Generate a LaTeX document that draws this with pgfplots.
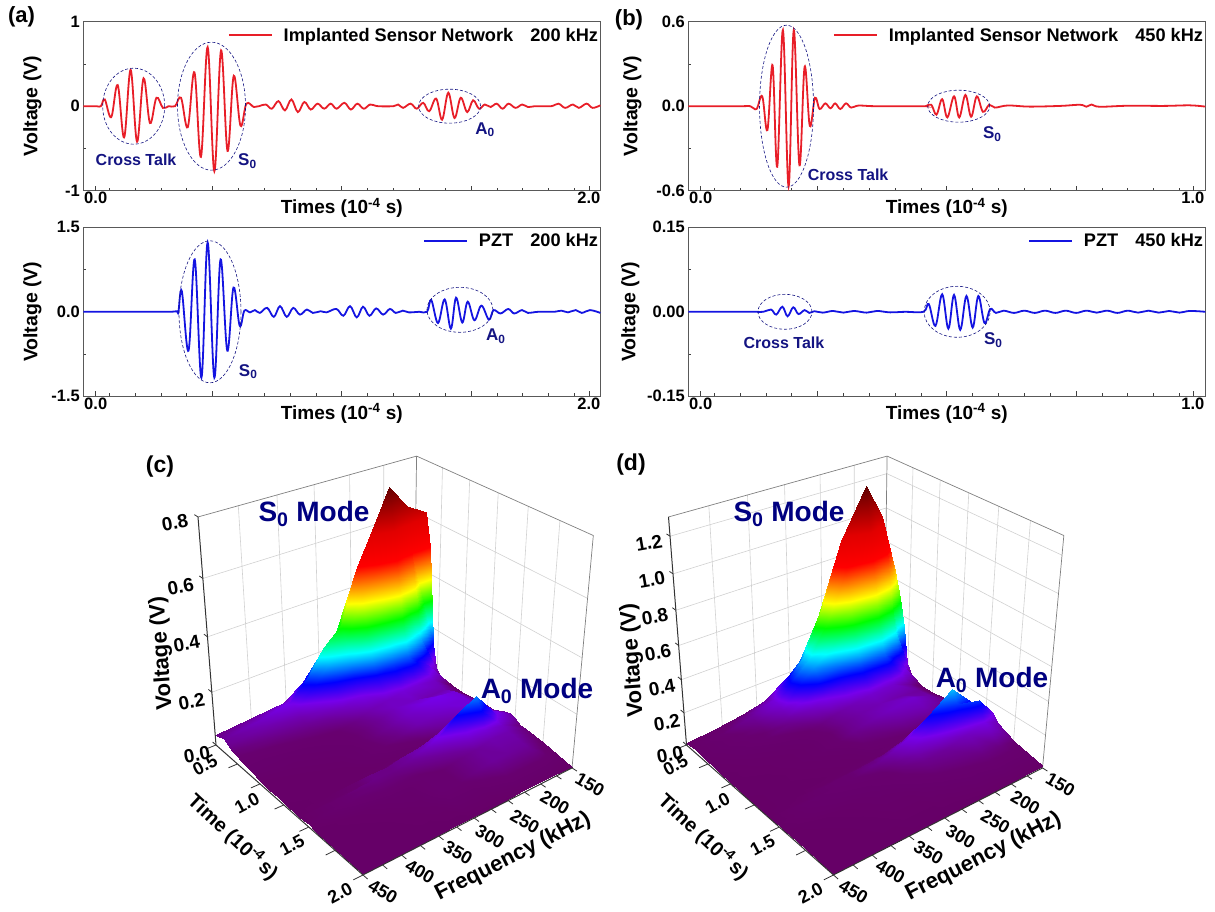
\documentclass[border=0pt]{standalone}
\usepackage{pgfplots}
\usepackage{pgfplotstable}
\usepackage{fontspec}
\setmainfont{Liberation Sans}
\pgfplotsset{compat=1.18}
\newcommand\fs[1]{\fontsize{#1}{#1}\selectfont\bfseries}
\definecolor{nv}{RGB}{20,20,130}
\definecolor{nd}{RGB}{0,0,128}
\definecolor{lr}{RGB}{232,30,40}
\definecolor{lb}{RGB}{20,20,225}
\tikzset{ell/.style={nv,densely dashed,line width=.6pt},lab/.style={nv,font=\fs{16}}}
\pgfplotsset{
 panel/.style={scale only axis,width=517pt,height=169pt,clip=false,
  tick align=inside,xtick pos=bottom,ytick pos=left,
  axis line style={black!65,line width=.8pt},
  tick style={black!75,line width=.7pt},
  major tick length=5pt,minor tick length=3pt,
  xticklabels={,,,,},
  minor x tick num=4,minor y tick num=1,
  tick label style={font=\fs{16.5}},
  xlabel={Times (10\textsuperscript{-4} s)},
  ylabel={Voltage (V)},
  every axis x label/.style={at={(0.5,0)},yshift=-17pt,anchor=center,font=\fs{19}},
  every axis y label/.style={at={(0,0.5)},xshift=-51pt,rotate=90,anchor=center,font=\fs{19.5}},
  extra tick style={major tick length=0pt,tick style={draw=none}},
  every extra x tick/.style={xticklabel style={yshift=2pt}},
  legend cell align=left,
  legend style={draw=none,fill=none,at={(1,1)},anchor=north east,xshift=3pt,yshift=-2pt,font=\fs{18.2}},
 },
 legred/.style={legend image code/.code={\draw[lr,line width=1.8pt] (0,0) -- (43pt,0);\path (52pt,0);}},
 legblue/.style={legend image code/.code={\draw[lb,line width=1.8pt] (0,0) -- (43pt,0);\path (52pt,0);}},
 sig/.style={line width=1.8pt,smooth,tension=.6},
 /pgfplots/table/projc/.style={
   x expr={PX((\thisrow{t}-0.5)/1.5,(450-\thisrow{f})/300,\thisrow{v}/0.8)},
   y expr={PY((\thisrow{t}-0.5)/1.5,(450-\thisrow{f})/300,\thisrow{v}/0.8)},
   z expr={\thisrow{v}}},
 /pgfplots/table/projd/.style={
   x expr={470.5+PX((\thisrow{t}-0.5)/1.5,(450-\thisrow{f})/300,\thisrow{v}/1.3)},
   y expr={PY((\thisrow{t}-0.5)/1.5,(450-\thisrow{f})/300,\thisrow{v}/1.3)},
   z expr={\thisrow{v}}},
 colormap={rb}{rgb255(0pt)=(102,0,102); rgb255(3pt)=(104,0,112); rgb255(6pt)=(112,0,175); rgb255(9pt)=(118,0,235);
   rgb255(14pt)=(0,0,255); rgb255(22pt)=(0,255,255); rgb255(30pt)=(0,255,0);
   rgb255(38pt)=(255,255,0); rgb255(44pt)=(255,128,0); rgb255(50pt)=(255,0,0);
   rgb255(60pt)=(225,0,0); rgb255(75pt)=(95,0,0)},
 wall/.style={black!18,line width=.6pt,forget plot},
 frame/.style={black!50,line width=.7pt,forget plot},
 axl/.style={black!80,line width=1pt,forget plot},
 tk/.style={black!80,line width=.8pt,forget plot},
}
\pgfplotstableread[row sep=\\]{t f v\\
0.5 150 0.30\\0.5 180 0.38\\0.5 207 0.42\\0.5 230 0.36\\0.5 255 0.28\\0.5 280 0.18\\0.5 305 0.13\\0.5 330 0.09\\0.5 355 0.06\\0.5 400 0.05\\0.5 450 0.04\\
0.55 150 0.50\\0.55 180 0.58\\0.55 207 0.66\\0.55 230 0.55\\0.55 255 0.43\\0.55 280 0.27\\0.55 305 0.21\\0.55 330 0.13\\0.55 355 0.08\\0.55 400 0.06\\0.55 450 0.045\\
0.6 150 0.62\\0.6 180 0.66\\0.6 207 0.745\\0.6 230 0.63\\0.6 255 0.50\\0.6 280 0.31\\0.6 305 0.25\\0.6 330 0.16\\0.6 355 0.095\\0.6 400 0.07\\0.6 450 0.05\\
0.65 150 0.50\\0.65 180 0.52\\0.65 207 0.60\\0.65 230 0.50\\0.65 255 0.40\\0.65 280 0.26\\0.65 305 0.20\\0.65 330 0.13\\0.65 355 0.08\\0.65 400 0.06\\0.65 450 0.045\\
0.7 150 0.14\\0.7 180 0.36\\0.7 207 0.42\\0.7 230 0.36\\0.7 255 0.29\\0.7 280 0.19\\0.7 305 0.14\\0.7 330 0.09\\0.7 355 0.06\\0.7 400 0.05\\0.7 450 0.035\\
0.75 150 0.02\\0.75 180 0.20\\0.75 207 0.28\\0.75 230 0.25\\0.75 255 0.20\\0.75 280 0.13\\0.75 305 0.10\\0.75 330 0.07\\0.75 355 0.05\\0.75 400 0.04\\0.75 450 0.03\\
0.8 150 0.02\\0.8 180 0.12\\0.8 207 0.17\\0.8 230 0.16\\0.8 255 0.13\\0.8 280 0.09\\0.8 305 0.07\\0.8 330 0.05\\0.8 355 0.04\\0.8 400 0.03\\0.8 450 0.025\\
0.9 150 0.02\\0.9 180 0.07\\0.9 207 0.08\\0.9 230 0.08\\0.9 255 0.07\\0.9 280 0.06\\0.9 305 0.04\\0.9 330 0.03\\0.9 355 0.025\\0.9 400 0.02\\0.9 450 0.02\\
1.0 150 0.02\\1.0 180 0.06\\1.0 207 0.06\\1.0 230 0.07\\1.0 255 0.07\\1.0 280 0.05\\1.0 305 0.035\\1.0 330 0.025\\1.0 355 0.02\\1.0 400 0.015\\1.0 450 0.01\\
1.1 150 0.025\\1.1 180 0.08\\1.1 207 0.09\\1.1 230 0.085\\1.1 255 0.07\\1.1 280 0.05\\1.1 305 0.035\\1.1 330 0.02\\1.1 355 0.015\\1.1 400 0.01\\1.1 450 0.01\\
1.2 150 0.03\\1.2 180 0.08\\1.2 207 0.08\\1.2 230 0.07\\1.2 255 0.06\\1.2 280 0.04\\1.2 305 0.03\\1.2 330 0.02\\1.2 355 0.01\\1.2 400 0.01\\1.2 450 0.01\\
1.3 150 0.03\\1.3 180 0.08\\1.3 207 0.06\\1.3 230 0.05\\1.3 255 0.03\\1.3 280 0.02\\1.3 305 0.015\\1.3 330 0.01\\1.3 355 0.01\\1.3 400 0.01\\1.3 450 0.005\\
1.35 150 0.04\\1.35 180 0.08\\1.35 207 0.06\\1.35 230 0.05\\1.35 255 0.03\\1.35 280 0.025\\1.35 305 0.02\\1.35 330 0.015\\1.35 355 0.01\\1.35 400 0.01\\1.35 450 0.005\\
1.4 150 0.05\\1.4 180 0.08\\1.4 207 0.14\\1.4 230 0.11\\1.4 255 0.08\\1.4 280 0.06\\1.4 305 0.05\\1.4 330 0.04\\1.4 355 0.04\\1.4 400 0.015\\1.4 450 0.005\\
1.45 150 0.056\\1.45 180 0.10\\1.45 207 0.18\\1.45 230 0.15\\1.45 255 0.10\\1.45 280 0.07\\1.45 305 0.05\\1.45 330 0.04\\1.45 355 0.04\\1.45 400 0.03\\1.45 450 0.005\\
1.5 150 0.05\\1.5 180 0.09\\1.5 207 0.14\\1.5 230 0.10\\1.5 255 0.07\\1.5 280 0.05\\1.5 305 0.04\\1.5 330 0.035\\1.5 355 0.035\\1.5 400 0.03\\1.5 450 0.01\\
1.55 150 0.035\\1.55 180 0.07\\1.55 207 0.08\\1.55 230 0.07\\1.55 255 0.05\\1.55 280 0.04\\1.55 305 0.03\\1.55 330 0.03\\1.55 355 0.03\\1.55 400 0.02\\1.55 450 0.005\\
1.6 150 0.035\\1.6 180 0.06\\1.6 207 0.06\\1.6 230 0.05\\1.6 255 0.04\\1.6 280 0.03\\1.6 305 0.03\\1.6 330 0.02\\1.6 355 0.02\\1.6 400 0.01\\1.6 450 0.005\\
1.75 150 0.025\\1.75 180 0.05\\1.75 207 0.05\\1.75 230 0.05\\1.75 255 0.04\\1.75 280 0.03\\1.75 305 0.03\\1.75 330 0.015\\1.75 355 0.01\\1.75 400 0.005\\1.75 450 0.005\\
2.0 150 0.005\\2.0 180 0.01\\2.0 207 0.01\\2.0 230 0.01\\2.0 255 0.005\\2.0 280 0.005\\2.0 305 0.005\\2.0 330 0.005\\2.0 355 0.005\\2.0 400 0.005\\2.0 450 0.005\\
}\datac
\pgfplotstableread[row sep=\\]{t f v\\
0.5 150 0.30\\0.5 172 0.55\\0.5 198 0.70\\0.5 234 0.55\\0.5 264 0.35\\0.5 291 0.20\\0.5 309 0.15\\0.5 339 0.08\\0.5 370 0.05\\0.5 410 0.03\\0.5 450 0.015\\
0.55 150 0.52\\0.55 172 0.85\\0.55 198 1.02\\0.55 234 0.78\\0.55 264 0.49\\0.55 291 0.28\\0.55 309 0.21\\0.55 339 0.11\\0.55 370 0.07\\0.55 410 0.04\\0.55 450 0.02\\
0.6 150 0.65\\0.6 172 1.01\\0.6 198 1.21\\0.6 234 0.936\\0.6 264 0.585\\0.6 291 0.33\\0.6 309 0.25\\0.6 339 0.13\\0.6 370 0.08\\0.6 410 0.05\\0.6 450 0.02\\
0.65 150 0.50\\0.65 172 0.80\\0.65 198 0.98\\0.65 234 0.78\\0.65 264 0.50\\0.65 291 0.33\\0.65 309 0.26\\0.65 339 0.13\\0.65 370 0.07\\0.65 410 0.04\\0.65 450 0.02\\
0.7 150 0.33\\0.7 172 0.55\\0.7 198 0.68\\0.7 234 0.56\\0.7 264 0.38\\0.7 291 0.30\\0.7 309 0.24\\0.7 339 0.11\\0.7 370 0.06\\0.7 410 0.04\\0.7 450 0.02\\
0.75 150 0.03\\0.75 172 0.36\\0.75 198 0.46\\0.75 234 0.38\\0.75 264 0.28\\0.75 291 0.24\\0.75 309 0.17\\0.75 339 0.09\\0.75 370 0.05\\0.75 410 0.035\\0.75 450 0.015\\
0.8 150 0.03\\0.8 172 0.18\\0.8 198 0.28\\0.8 234 0.25\\0.8 264 0.19\\0.8 291 0.15\\0.8 309 0.11\\0.8 339 0.07\\0.8 370 0.05\\0.8 410 0.03\\0.8 450 0.015\\
0.9 150 0.03\\0.9 172 0.08\\0.9 198 0.12\\0.9 234 0.12\\0.9 264 0.10\\0.9 291 0.08\\0.9 309 0.06\\0.9 339 0.04\\0.9 370 0.03\\0.9 410 0.02\\0.9 450 0.01\\
1.0 150 0.03\\1.0 172 0.08\\1.0 198 0.09\\1.0 234 0.10\\1.0 264 0.09\\1.0 291 0.07\\1.0 309 0.05\\1.0 339 0.03\\1.0 370 0.02\\1.0 410 0.015\\1.0 450 0.01\\
1.1 150 0.04\\1.1 172 0.09\\1.1 198 0.12\\1.1 234 0.11\\1.1 264 0.09\\1.1 291 0.07\\1.1 309 0.05\\1.1 339 0.03\\1.1 370 0.02\\1.1 410 0.01\\1.1 450 0.01\\
1.2 150 0.05\\1.2 172 0.08\\1.2 198 0.10\\1.2 234 0.08\\1.2 264 0.06\\1.2 291 0.05\\1.2 309 0.03\\1.2 339 0.02\\1.2 370 0.015\\1.2 410 0.01\\1.2 450 0.005\\
1.3 150 0.05\\1.3 172 0.06\\1.3 198 0.06\\1.3 234 0.05\\1.3 264 0.04\\1.3 291 0.03\\1.3 309 0.02\\1.3 339 0.015\\1.3 370 0.01\\1.3 410 0.01\\1.3 450 0.005\\
1.35 150 0.05\\1.35 172 0.08\\1.35 198 0.08\\1.35 234 0.07\\1.35 264 0.05\\1.35 291 0.03\\1.35 309 0.03\\1.35 339 0.02\\1.35 370 0.015\\1.35 410 0.01\\1.35 450 0.005\\
1.4 150 0.06\\1.4 172 0.12\\1.4 198 0.16\\1.4 234 0.14\\1.4 264 0.10\\1.4 291 0.07\\1.4 309 0.06\\1.4 339 0.05\\1.4 370 0.04\\1.4 410 0.015\\1.4 450 0.005\\
1.45 150 0.08\\1.45 172 0.16\\1.45 198 0.32\\1.45 234 0.22\\1.45 264 0.14\\1.45 291 0.09\\1.45 309 0.07\\1.45 339 0.05\\1.45 370 0.04\\1.45 410 0.03\\1.45 450 0.005\\
1.5 150 0.10\\1.5 172 0.21\\1.5 198 0.25\\1.5 234 0.18\\1.5 264 0.12\\1.5 291 0.07\\1.5 309 0.05\\1.5 339 0.04\\1.5 370 0.035\\1.5 410 0.025\\1.5 450 0.01\\
1.55 150 0.14\\1.55 172 0.25\\1.55 198 0.18\\1.55 234 0.12\\1.55 264 0.09\\1.55 291 0.06\\1.55 309 0.04\\1.55 339 0.035\\1.55 370 0.03\\1.55 410 0.02\\1.55 450 0.005\\
1.6 150 0.10\\1.6 172 0.14\\1.6 198 0.11\\1.6 234 0.08\\1.6 264 0.07\\1.6 291 0.05\\1.6 309 0.04\\1.6 339 0.03\\1.6 370 0.02\\1.6 410 0.01\\1.6 450 0.005\\
1.75 150 0.05\\1.75 172 0.06\\1.75 198 0.06\\1.75 234 0.05\\1.75 264 0.04\\1.75 291 0.03\\1.75 309 0.02\\1.75 339 0.02\\1.75 370 0.01\\1.75 410 0.005\\1.75 450 0.005\\
2.0 150 0.01\\2.0 172 0.01\\2.0 198 0.01\\2.0 234 0.01\\2.0 264 0.005\\2.0 291 0.005\\2.0 309 0.005\\2.0 339 0.005\\2.0 370 0.005\\2.0 410 0.005\\2.0 450 0.005\\
}\datad
\begin{document}
\begin{tikzpicture}[x=1pt,y=1pt]
\useasboundingbox (0,0) rectangle (1215,912);
% ---------- 3D panels, perspective through the axis' table expressions
\begin{axis}[at={(0pt,0pt)},anchor=south west,scale only axis,width=1215pt,height=912pt,
  xmin=0,xmax=1215,ymin=0,ymax=912,zmin=0,zmax=2,view={0}{90},hide axis,clip=false,
  point meta min=0,point meta max=1,
  declare function={DD(\a,\b,\c)=1-0.1443*\a+0.1177*\b-0.098*\c;
    PX(\a,\b,\c)=(216+94.6*\a+246.2*\b-37.4*\c)/DD(\a,\b,\c);
    PY(\a,\b,\c)=912-(745+3.7*\a-1.2*\b-278.7*\c)/DD(\a,\b,\c);},
  colormap name=rb]
% panel c walls
\pgfplotsinvokeforeach{200,250,300,350,400}{\addplot3[wall] table[projc,row sep=\\]{t f v\\0.5 #1 0\\0.5 #1 0.8\\};}
\pgfplotsinvokeforeach{0.75,1.0,1.25,1.5,1.75}{\addplot3[wall] table[projc,row sep=\\]{t f v\\#1 150 0\\#1 150 0.8\\};}
\pgfplotsinvokeforeach{0.2,0.4,0.6}{\addplot3[wall] table[projc,row sep=\\]{t f v\\0.5 450 #1\\0.5 150 #1\\2.0 150 #1\\};}
\addplot3[frame] table[projc,row sep=\\]{t f v\\0.5 450 0.8\\0.5 150 0.8\\2.0 150 0.8\\2.0 150 0\\};
\addplot3[frame] table[projc,row sep=\\]{t f v\\0.5 150 0.8\\0.5 150 0\\};
% panel d walls
\pgfplotsinvokeforeach{200,250,300,350,400}{\addplot3[wall] table[projd,row sep=\\]{t f v\\0.5 #1 0\\0.5 #1 1.3\\};}
\pgfplotsinvokeforeach{0.75,1.0,1.25,1.5,1.75}{\addplot3[wall] table[projd,row sep=\\]{t f v\\#1 150 0\\#1 150 1.3\\};}
\pgfplotsinvokeforeach{0.2,0.4,0.6,0.8,1.0,1.2}{\addplot3[wall] table[projd,row sep=\\]{t f v\\0.5 450 #1\\0.5 150 #1\\2.0 150 #1\\};}
\addplot3[frame] table[projd,row sep=\\]{t f v\\0.5 450 1.3\\0.5 150 1.3\\2.0 150 1.3\\2.0 150 0\\};
\addplot3[frame] table[projd,row sep=\\]{t f v\\0.5 150 1.3\\0.5 150 0\\};
% surfaces
\addplot3[surf,shader=interp,mesh/rows=20,mesh/cols=11,z buffer=none,point meta={\thisrow{v}/0.75},forget plot] table[projc]{\datac};
\addplot3[surf,shader=interp,mesh/rows=20,mesh/cols=11,z buffer=none,point meta={\thisrow{v}/1.2},forget plot] table[projd]{\datad};
% panel c axes and ticks
\addplot3[axl] table[projc,row sep=\\]{t f v\\0.5 450 0.8\\0.5 450 0\\2.0 450 0\\2.0 150 0\\};
\pgfplotsinvokeforeach{0.0,0.2,0.4,0.6,0.8}{\addplot3[tk] table[projc,row sep=\\]{t f v\\0.5 450 #1\\0.46 450 #1\\};}
\pgfplotsinvokeforeach{0.5,0.75,1.0,1.25,1.5,1.75,2.0}{\addplot3[tk] table[projc,row sep=\\]{t f v\\#1 450 0\\#1 462 0\\};}
\pgfplotsinvokeforeach{150,175,200,225,250,275,300,325,350,375,400,425,450}{\addplot3[tk] table[projc,row sep=\\]{t f v\\2.0 #1 0\\2.04 #1 0\\};}
% panel d axes and ticks
\addplot3[axl] table[projd,row sep=\\]{t f v\\0.5 450 1.3\\0.5 450 0\\2.0 450 0\\2.0 150 0\\};
\pgfplotsinvokeforeach{0.0,0.2,0.4,0.6,0.8,1.0,1.2}{\addplot3[tk] table[projd,row sep=\\]{t f v\\0.5 450 #1\\0.46 450 #1\\};}
\pgfplotsinvokeforeach{0.5,0.75,1.0,1.25,1.5,1.75,2.0}{\addplot3[tk] table[projd,row sep=\\]{t f v\\#1 450 0\\#1 462 0\\};}
\pgfplotsinvokeforeach{150,175,200,225,250,275,300,325,350,375,400,425,450}{\addplot3[tk] table[projd,row sep=\\]{t f v\\2.0 #1 0\\2.04 #1 0\\};}
\end{axis}
% ---------- panel a, top
\begin{axis}[panel,legred,at={(83.3pt,721.3pt)},anchor=south west,xmin=0,xmax=2,ymin=-1,ymax=1,
  xtick={0,0.5,1,1.5,2},ytick={-1,0,1},yticklabels={-1,0,1},
  extra x ticks={0.048,1.956},extra x tick labels={0.0,2.0}]
\addplot[sig,lr] coordinates {(0,0)(.05,0)(.068,0)(.083,.08)(.108,-.13)(.133,.25)(.158,-.37)(.183,.43)(.208,-.42)(.233,.33)(.258,-.2)(.283,.1)(.308,-.02)(.33,0)(.355,0)(.378,.1)(.404,-.25)(.43,.4)(.455,-.6)(.481,.7)(.507,-.77)(.533,.66)(.558,-.53)(.582,.36)(.608,-.23)(.631,.03)(.66,-.01)(.68,0)(.706,.02)(.729,-.03)(.755,.06)(.78,-.05)(.805,.08)(.83,-.07)(.855,.05)(.88,-.04)(.906,.03)(.932,-.03)(.957,.03)(.98,-.03)(1.01,.04)(1.035,-.04)(1.06,.03)(1.085,-.03)(1.11,.02)(1.14,0)(1.2,0)(1.218,.02)(1.237,-.02)(1.266,.03)(1.29,-.03)(1.315,.04)(1.338,-.06)(1.365,.09)(1.388,-.16)(1.412,.16)(1.436,-.14)(1.46,.1)(1.485,-.07)(1.508,.07)(1.531,-.03)(1.553,.02)(1.576,-.01)(1.599,.03)(1.622,-.03)(1.645,.03)(1.672,-.02)(1.698,.02)(1.72,-.01)(1.75,0)(1.81,0)(1.838,.03)(1.864,-.02)(1.894,.02)(1.917,-.02)(1.947,.03)(1.97,-.02)(2,.01)};
\addlegendentry{Implanted Sensor Network\hspace{17pt}200 kHz}
\draw[ell] (axis cs:.195,0) ellipse [x radius=31pt,y radius=38pt];
\draw[ell] (axis cs:.496,0) ellipse [x radius=34pt,y radius=64pt];
\draw[ell] (axis cs:1.417,0) ellipse [x radius=31pt,y radius=17pt];
\node[lab] at (axis cs:.204,-.63) {Cross Talk};
\node[lab,font=\fs{17}] at (axis cs:.635,-.65) {S\textsubscript{0}};
\node[lab,font=\fs{17}] at (axis cs:1.554,-.28) {A\textsubscript{0}};
\end{axis}
% ---------- panel a, bottom
\begin{axis}[panel,legblue,at={(83.3pt,515.7pt)},anchor=south west,xmin=0,xmax=2,ymin=-1.5,ymax=1.5,
  xtick={0,0.5,1,1.5,2},ytick={-1.5,0,1.5},yticklabels={-1.5,0.0,1.5},
  extra x ticks={0.048,1.956},extra x tick labels={0.0,2.0}]
\addplot[sig,lb] coordinates {(0,0)(.3,0)(.34,0)(.362,.01)(.368,0)(.381,.37)(.407,-.69)(.431,.93)(.457,-1.17)(.481,1.23)(.507,-1.17)(.531,.93)(.557,-.69)(.581,.43)(.605,-.25)(.623,.02)(.645,-.01)(.664,.03)(.683,-.02)(.711,.07)(.737,-.09)(.761,.1)(.787,-.09)(.812,.07)(.838,-.05)(.865,.04)(.888,-.02)(.918,.01)(.941,-.01)(.979,.05)(1.006,-.07)(1.032,.1)(1.058,-.1)(1.082,.09)(1.107,-.07)(1.133,.06)(1.16,-.05)(1.186,.05)(1.209,-.02)(1.236,.02)(1.259,-.01)(1.3,0)(1.33,0)(1.346,.21)(1.372,-.2)(1.398,.22)(1.422,-.3)(1.442,.25)(1.466,-.19)(1.487,.18)(1.513,-.15)(1.54,.11)(1.569,-.14)(1.587,.03)(1.614,-.03)(1.644,.05)(1.667,-.03)(1.697,.03)(1.72,-.02)(1.76,0)(1.82,0)(1.85,.02)(1.875,-.01)(1.905,.03)(1.928,-.02)(1.96,.03)(2,-.02)};
\addlegendentry{PZT\hspace{17pt}200 kHz}
\draw[ell] (axis cs:.49,0) ellipse [x radius=31pt,y radius=71pt];
\draw[ell] (axis cs:1.457,.035) ellipse [x radius=33pt,y radius=22.5pt];
\node[lab,font=\fs{17}] at (axis cs:.638,-1.065) {S\textsubscript{0}};
\node[lab,font=\fs{17}] at (axis cs:1.596,-.43) {A\textsubscript{0}};
\end{axis}
% ---------- panel b, top
\begin{axis}[panel,legred,at={(688.3pt,721.3pt)},anchor=south west,xmin=0,xmax=1,ymin=-.6,ymax=.6,
  xtick={0,0.25,0.5,0.75,1},ytick={-.6,0,.6},yticklabels={-0.6,0.0,0.6},
  extra x ticks={0.024,0.976},extra x tick labels={0.0,1.0},
  every axis y label/.style={at={(0,0.5)},xshift=-56pt,rotate=90,anchor=center,font=\fs{19.5}}]
\addplot[sig,lr] coordinates {(0,0)(.1,0)(.12,0)(.132,-.02)(.143,.07)(.153,-.17)(.163,.29)(.172,-.43)(.183,.54)(.194,-.57)(.204,.54)(.215,-.42)(.225,.28)(.235,-.14)(.245,.06)(.254,-.02)(.265,.02)(.275,-.015)(.284,.02)(.294,-.02)(.305,.02)(.315,-.01)(.33,.005)(.36,0)(.45,0)(.459,0)(.47,.01)(.48,-.06)(.491,.05)(.501,-.08)(.514,.07)(.524,-.08)(.536,.08)(.547,-.075)(.558,.07)(.57,-.04)(.582,.01)(.593,-.01)(.618,.005)(.66,-.003)(.72,.002)(.758,.01)(.77,-.004)(.78,.012)(.795,-.004)(.85,.003)(.92,.002)(.97,.006)(1,-.003)};
\addlegendentry{Implanted Sensor Network\hspace{17pt}450 kHz}
\draw[ell] (axis cs:.19,0) ellipse [x radius=27pt,y radius=81pt];
\draw[ell] (axis cs:.523,0) ellipse [x radius=31pt,y radius=16pt];
\node[lab] at (axis cs:.309,-.49) {Cross Talk};
\node[lab,font=\fs{17}] at (axis cs:.588,-.2) {S\textsubscript{0}};
\end{axis}
% ---------- panel b, bottom
\begin{axis}[panel,legblue,at={(688.3pt,515.7pt)},anchor=south west,xmin=0,xmax=1,ymin=-.15,ymax=.15,
  xtick={0,0.25,0.5,0.75,1},ytick={-.15,0,.15},yticklabels={-0.15,0.00,0.15},
  extra x ticks={0.024,0.976},extra x tick labels={0.0,1.0},
  every axis y label/.style={at={(0,0.5)},xshift=-58pt,rotate=90,anchor=center,font=\fs{19.5}}]
\addplot[sig,lb] coordinates {(0,0)(.12,0)(.145,0)(.16,.004)(.17,-.005)(.182,.009)(.192,-.008)(.203,.008)(.213,-.004)(.225,.003)(.234,-.002)(.244,.001)(.26,-.0015)(.28,.0015)(.3,-.0015)(.32,.0015)(.345,-.0015)(.365,.0015)(.39,-.001)(.42,0)(.455,0)(.465,.014)(.478,-.025)(.491,.031)(.503,-.03)(.514,.03)(.526,-.032)(.538,.028)(.55,-.028)(.561,.028)(.573,-.02)(.584,.005)(.595,-.002)(.61,.002)(.63,-.002)(.65,.002)(.67,-.002)(.69,.002)(.71,-.002)(.73,.002)(.75,-.002)(.77,.002)(.79,-.0015)(.81,.002)(.83,-.002)(.85,.002)(.87,-.0015)(.89,.002)(.91,-.0015)(.93,.0015)(.95,-.0015)(.97,.0015)(1,0)};
\addlegendentry{PZT\hspace{17pt}450 kHz}
\draw[ell] (axis cs:.187,0) ellipse [x radius=27pt,y radius=17.5pt];
\draw[ell] (axis cs:.52,0) ellipse [x radius=33pt,y radius=25.5pt];
\node[lab] at (axis cs:.185,-.0555) {Cross Talk};
\node[lab,font=\fs{17}] at (axis cs:.59,-.05) {S\textsubscript{0}};
\end{axis}
% ---------- labels, in picture pixels
\begin{scope}[x=1pt,y=-1pt,yshift=912pt]
\node[font=\fs{22}] at (21.5,17) {(a)};
\node[font=\fs{22}] at (629,20) {(b)};
\node[font=\fs{23}] at (160,467) {(c)};
\node[font=\fs{23}] at (631,465) {(d)};
\foreach \dx/\zz in {0/{0.0/197/755,0.2/191.7/702,0.4/186.7/644,0.6/180.7/587,0.8/175/523},470.5/{0.0/199.5/755,0.2/196.5/723,0.4/191.5/688,0.6/187.5/653,0.8/184.5/617,1.0/181.5/580,1.2/178.5/543}}{
  \foreach \l/\x/\y in \zz {\node[rotate=10,font=\fs{19}] at (\dx+\x,\y) {\l};}
  \foreach \l/\x/\y in {0.5/205/765,1.0/247/803,1.5/292/845,2.0/340/893} {\node[rotate=28,font=\fs{18}] at (\dx+\x,\y) {\l};}
  \foreach \l/\x/\y in {150/590/785,200/555/803,250/525/822,300/490/837,350/458/853,400/420/872,450/383/892} {\node[rotate=-30,font=\fs{18}] at (\dx+\x,\y) {\l};}
  \node[rotate=-43,font=\fs{20}] at (\dx+233,837) {Time (10\textsuperscript{-4}\,s)};
  \node[rotate=27,font=\fs{22}] at (\dx+513,857) {Frequency (kHz)};
}
\node[rotate=94,font=\fs{22}] at (162,653) {Voltage (V)};
\node[rotate=94,font=\fs{22}] at (633,660) {Voltage (V)};
\node[font=\fs{28},text=nd] at (314,514) {S\textsubscript{0} Mode};
\node[font=\fs{28},text=nd] at (537,691) {A\textsubscript{0} Mode};
\node[font=\fs{28},text=nd] at (789,514) {S\textsubscript{0} Mode};
\node[font=\fs{28},text=nd] at (992,680) {A\textsubscript{0} Mode};
\end{scope}
\end{tikzpicture}
\end{document}
